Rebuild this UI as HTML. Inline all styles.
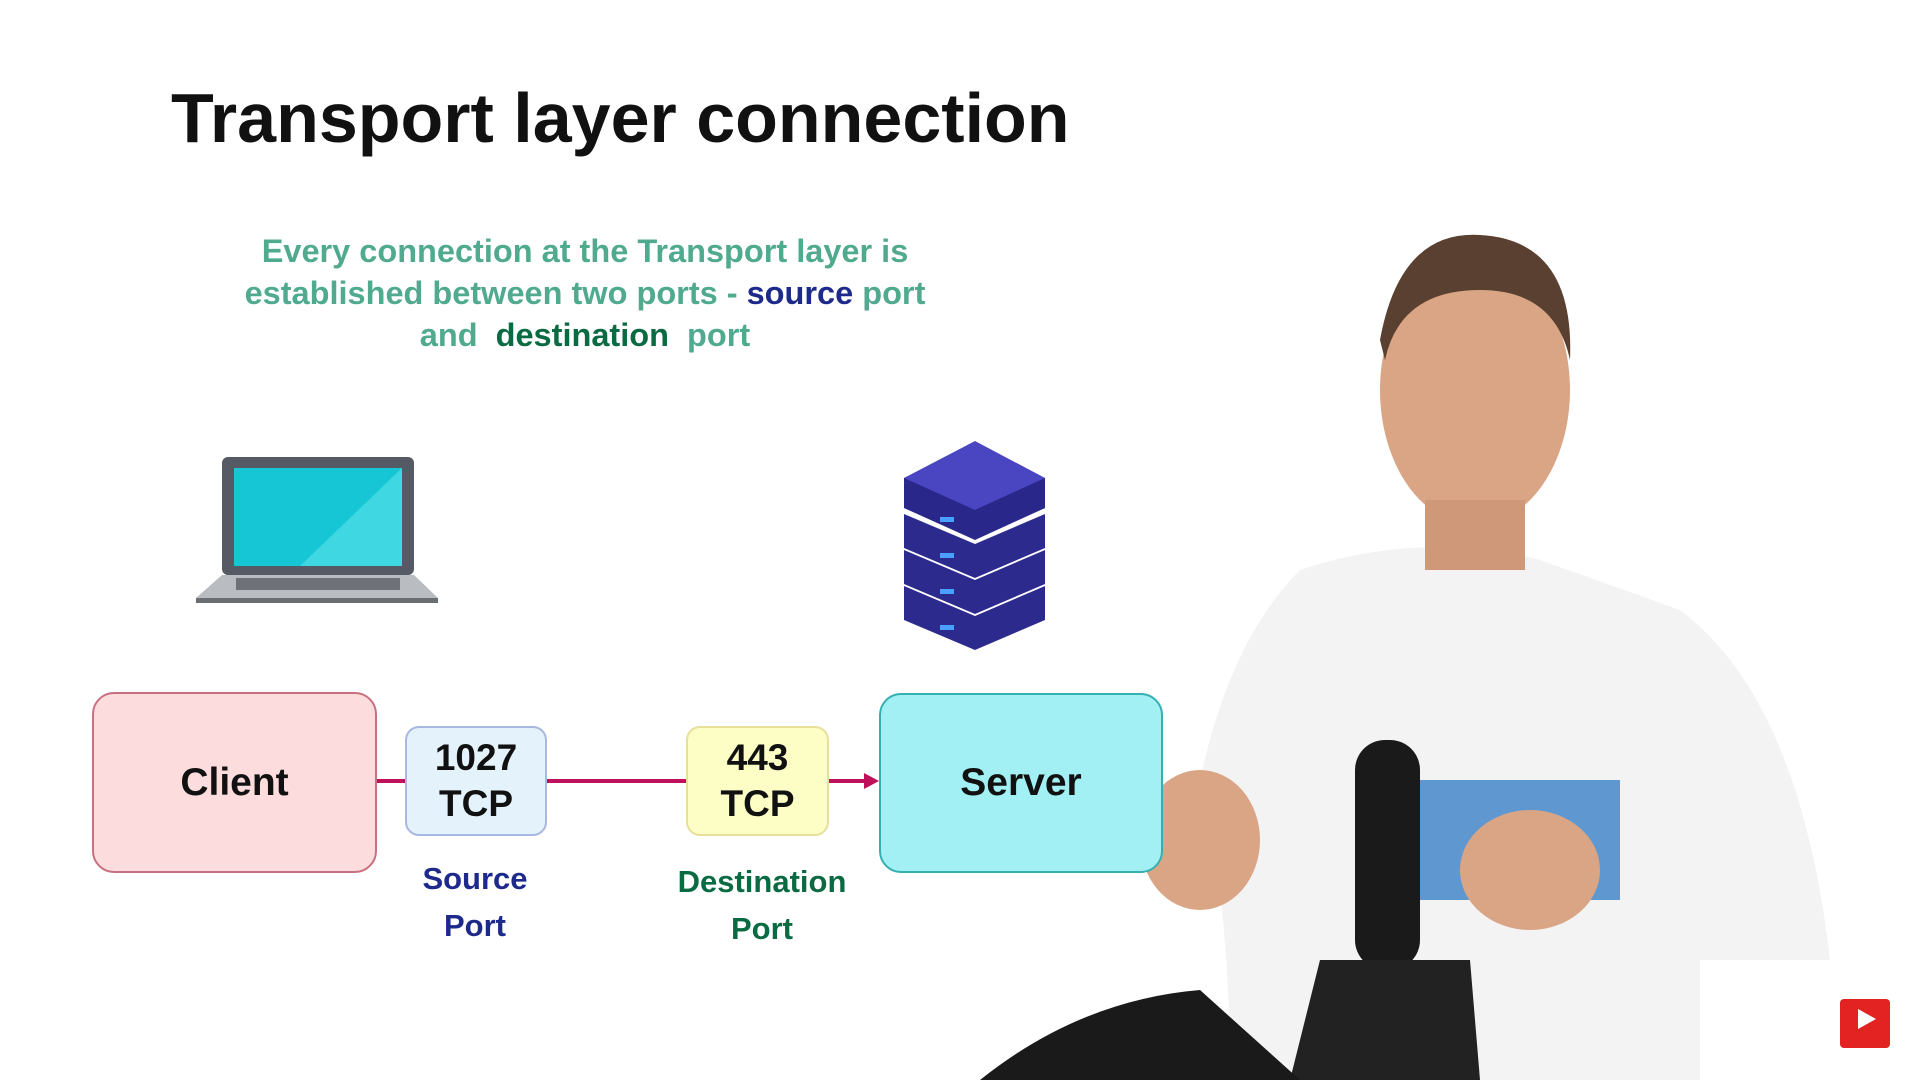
<!DOCTYPE html>
<html><head><meta charset="utf-8"><style>
body{margin:0;width:1920px;height:1080px;background:#fff;position:relative;overflow:hidden;font-family:"Liberation Sans",sans-serif}
.a{position:absolute}
.box{position:absolute;box-sizing:border-box;display:flex;align-items:center;justify-content:center;text-align:center;font-weight:bold;color:#111}
</style></head><body>
<div class="a" style="left:171px;top:78px;font-size:70px;font-weight:bold;color:#111">Transport layer connection</div>
<div class="a" style="left:185px;top:230px;width:800px;text-align:center;font-size:32.5px;line-height:42px;font-weight:bold;color:#4faa8e">Every connection at the Transport layer is<br>established between two ports - <span style="color:#1d2a8c">source</span> port<br>and &nbsp;<span style="color:#0a6a42">destination</span> &nbsp;port</div>

<svg class="a" style="left:0;top:0" width="1920" height="1080">
 <rect x="222" y="457" width="192" height="118" rx="6" fill="#555a64"/>
 <rect x="234" y="468" width="168" height="98" fill="#16c6d4"/>
 <path d="M300 566 L402 468 L402 566Z" fill="#3fd8e2"/>
 <path d="M222 575 L414 575 L438 598 L196 598Z" fill="#b9bcc0"/>
 <rect x="236" y="578" width="164" height="12" fill="#6e7278"/>
 <rect x="196" y="598" width="242" height="5" fill="#6a6d72"/>
 <g fill="#2c2a8c">
  <path d="M904 478 L975 448 L1045 478 L1045 508 L975 538 L904 508Z" fill="#3b36a8"/>
  <path d="M904 514 L975 544 L1045 514 L1045 548 L975 578 L904 548Z"/>
  <path d="M904 550 L975 580 L1045 550 L1045 584 L975 614 L904 584Z"/>
  <path d="M904 586 L975 616 L1045 586 L1045 620 L975 650 L904 620Z"/>
  <path d="M904 478 L975 441 L1045 478 L975 510Z" fill="#4a45c0"/>
  <path d="M904 478 L975 510 L1045 478 L1045 508 L975 540 L904 508Z" fill="#2a278a"/>
 </g>
 <g fill="#4aa0ff"><rect x="940" y="517" width="14" height="5"/><rect x="940" y="553" width="14" height="5"/><rect x="940" y="589" width="14" height="5"/><rect x="940" y="625" width="14" height="5"/></g>
 <g stroke="#c0105a" stroke-width="4">
  <line x1="377" y1="781" x2="405" y2="781"/>
  <line x1="547" y1="781" x2="686" y2="781"/>
  <line x1="829" y1="781" x2="868" y2="781"/>
 </g>
 <path d="M864 773 L879 781 L864 789Z" fill="#c0105a"/>
 <path d="M1300 570 Q1420 530 1540 560 L1680 610 Q1800 700 1830 960 L1700 960 L1700 1080 L1230 1080 Q1230 900 1200 780 Q1230 640 1300 570Z" fill="#f3f3f3"/>
 <ellipse cx="1475" cy="390" rx="95" ry="135" fill="#d9a585"/>
 <path d="M1380 340 Q1400 230 1480 235 Q1575 240 1570 360 Q1555 290 1480 290 Q1400 290 1385 360Z" fill="#5a4030"/>
 <rect x="1425" y="500" width="100" height="70" fill="#cf9878"/>
 <rect x="1420" y="780" width="200" height="120" fill="#3a7fc8" opacity="0.8"/>
 <ellipse cx="1200" cy="840" rx="60" ry="70" fill="#d9a585"/>
 <ellipse cx="1530" cy="870" rx="70" ry="60" fill="#d9a585"/>
 <rect x="1355" y="740" width="65" height="230" rx="30" fill="#1a1a1a"/>
 <path d="M1320 960 L1470 960 L1480 1080 L1290 1080Z" fill="#222"/>
 <path d="M980 1080 Q1080 1000 1200 990 L1300 1080Z" fill="#1a1a1a"/>
 <rect x="1840" y="999" width="50" height="49" rx="4" fill="#e32222"/>
 <path d="M1858 1009 L1876 1019 L1858 1029Z" fill="#fff"/>
</svg>

<div class="box" style="left:92px;top:692px;width:285px;height:181px;background:#fcdcdc;border:2px solid #c87080;border-radius:22px;font-size:39px">Client</div>
<div class="box" style="left:405px;top:726px;width:142px;height:110px;background:#e4f2fb;border:2px solid #a8b8e0;border-radius:14px;font-size:37px;line-height:46px">1027<br>TCP</div>
<div class="box" style="left:686px;top:726px;width:143px;height:110px;background:#fdfdc6;border:2px solid #e6e09a;border-radius:14px;font-size:37px;line-height:46px">443<br>TCP</div>
<div class="box" style="left:879px;top:693px;width:284px;height:180px;background:#a2f0f4;border:2px solid #35b0b0;border-radius:22px;font-size:39px">Server</div>
<div class="a" style="left:395px;top:855px;width:160px;text-align:center;font-size:31px;line-height:47px;font-weight:bold;color:#1d2a8c">Source<br>Port</div>
<div class="a" style="left:652px;top:858px;width:220px;text-align:center;font-size:31px;line-height:47px;font-weight:bold;color:#0a6a42">Destination<br>Port</div>
</body></html>
